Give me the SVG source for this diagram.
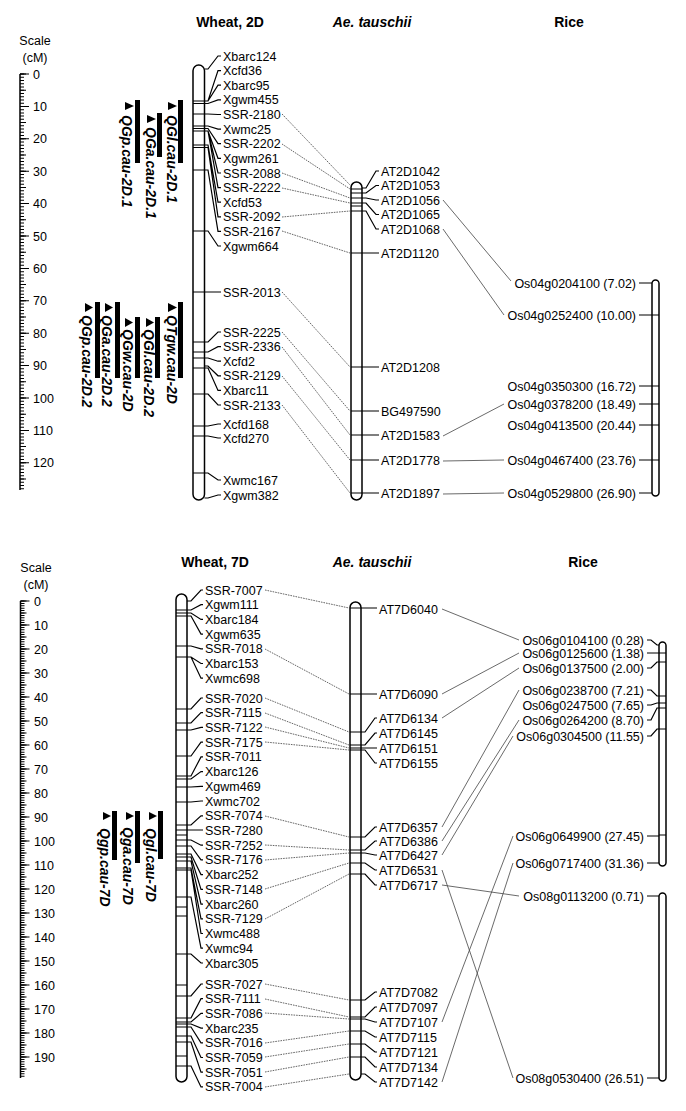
<svg xmlns="http://www.w3.org/2000/svg" width="686" height="1111" viewBox="0 0 686 1111">
<style>
text{font-family:"Liberation Sans",Arial,sans-serif;font-size:12.5px;fill:#000}
.h{font-weight:bold;font-size:14px;text-anchor:middle}
.hi{font-style:italic}
.q{font-weight:bold;font-style:italic;font-size:14px}
.m{text-anchor:middle}
.e{text-anchor:end}
.chr{fill:#fff;stroke:#000;stroke-width:1.5}
.bd{fill:none;stroke:#000;stroke-width:1.2}
.lk{fill:none;stroke:#000;stroke-width:1.2}
.dl{fill:none;stroke:#555;stroke-width:0.9;stroke-dasharray:1.6 1}
.sl{fill:none;stroke:#444;stroke-width:0.8}
.ax{stroke:#000;fill:none}
</style>
<rect width="686" height="1111" fill="#fff"/>

<!-- ===== Top panel: 2D ===== -->
<g id="scale-2D">
<text class="m" x="35" y="45">Scale</text>
<text class="m" x="35" y="62">(cM)</text>
<line class="ax" x1="20" y1="74" x2="20" y2="490" stroke-width="1.5"/>
<line class="ax" x1="22" y1="73.5" x2="22" y2="490" stroke-width="4" stroke-dasharray="1 2.24"/>
<line class="ax" x1="23" y1="73.5" x2="23" y2="490" stroke-width="6" stroke-dasharray="1 15.2"/>
<line class="ax" x1="24.5" y1="73.5" x2="24.5" y2="490" stroke-width="9" stroke-dasharray="1 31.4"/>
<text x="33" y="78.5">0</text><text x="33" y="110.9">10</text><text x="33" y="143.3">20</text><text x="33" y="175.7">30</text><text x="33" y="208.1">40</text><text x="33" y="240.5">50</text><text x="33" y="272.9">60</text><text x="33" y="305.3">70</text><text x="33" y="337.7">80</text><text x="33" y="370.1">90</text><text x="33" y="402.5">100</text><text x="33" y="434.9">110</text><text x="33" y="467.3">120</text>
</g>

<g id="headers-2D">
<text class="h" x="230" y="27">Wheat, 2D</text>
<text class="h hi" x="372" y="27">Ae. tauschii</text>
<text class="h" x="569" y="27">Rice</text>
</g>

<g id="qtl-2D">
<rect x="178" y="100" width="5" height="63"/><path d="M168 102L177 106L168 110Z"/><text class="q" transform="translate(167,115) rotate(90)">QGl.cau-2D.1</text>
<rect x="157" y="113" width="5" height="44"/><path d="M147 115L156 119L147 123Z"/><text class="q" transform="translate(146,127) rotate(90)">QGa.cau-2D.1</text>
<rect x="135" y="100" width="5" height="63"/><path d="M125 102L134 106L125 110Z"/><text class="q" transform="translate(122,115) rotate(90)">QGp.cau-2D.1</text>
<rect x="178" y="302" width="5" height="76"/><path d="M168 303L177 307.5L168 312Z"/><text class="q" transform="translate(167,315) rotate(90)">QTgw.cau-2D</text>
<rect x="155" y="317" width="5" height="61"/><path d="M146 318L154 322.5L146 327Z"/><text class="q" transform="translate(144,329) rotate(90)">QGl.cau-2D.2</text>
<rect x="135" y="317" width="5" height="61"/><path d="M125 318L133 322.5L125 327Z"/><text class="q" transform="translate(123,329) rotate(90)">QGw.cau-2D</text>
<rect x="115" y="302" width="5" height="76"/><path d="M105 303L113 307.5L105 312Z"/><text class="q" transform="translate(102,315) rotate(90)">QGa.cau-2D.2</text>
<rect x="95" y="302" width="5" height="76"/><path d="M85 303L93 307.5L85 312Z"/><text class="q" transform="translate(82,315) rotate(90)">QGp.cau-2D.2</text>
</g>

<g id="wheat-2D">
<rect class="chr" x="193" y="65" width="11.5" height="435" rx="5.7"/>
<path class="bd" d="M193 101H204.5M193 103.5H204.5M193 114H204.5M193 126H204.5M193 128.5H204.5M193 131H204.5M193 145H204.5M193 147.5H204.5M193 170H204.5M193 231H204.5M193 292H204.5M193 342H204.5M193 352H204.5M193 358H204.5M193 368H204.5M193 394H204.5M193 426H204.5M193 436H204.5M193 473H204.5"/>
<path class="lk" d="M204.5 69H208L218 56H221M204.5 101H208L218 70.6H221M204.5 101H208L218 85.2H221M204.5 103.5H208L218 99.9H221M204.5 114H208L218 114.5H221M204.5 126H208L218 129.1H221M204.5 128.5H208L218 143.7H221M204.5 131H208L218 158.3H221M204.5 131H208L218 173H221M204.5 131H208L218 187.6H221M204.5 145H208L218 202.2H221M204.5 147.5H208L218 216.8H221M204.5 170H208L218 231.4H221M204.5 231H208L218 246H221M204.5 292H221M204.5 342H208L218 332H221M204.5 352H208L218 346.6H221M204.5 358H208L218 361.2H221M204.5 366H208L218 375.8H221M204.5 368H208L218 390.4H221M204.5 394H208L218 405H221M204.5 426H208L218 424H221M204.5 436H208L218 438H221M204.5 473H208L218 480H221M204.5 498H208L218 495H221"/>
<text x="223" y="60.5">Xbarc124</text><text x="223" y="75.1">Xcfd36</text><text x="223" y="89.7">Xbarc95</text><text x="223" y="104.4">Xgwm455</text><text x="223" y="119">SSR-2180</text><text x="223" y="133.6">Xwmc25</text><text x="223" y="148.2">SSR-2202</text><text x="223" y="162.8">Xgwm261</text><text x="223" y="177.5">SSR-2088</text><text x="223" y="192.1">SSR-2222</text><text x="223" y="206.7">Xcfd53</text><text x="223" y="221.3">SSR-2092</text><text x="223" y="235.9">SSR-2167</text><text x="223" y="250.5">Xgwm664</text>
<text x="223" y="296.5">SSR-2013</text><text x="223" y="336.5">SSR-2225</text><text x="223" y="351.1">SSR-2336</text><text x="223" y="365.7">Xcfd2</text><text x="223" y="380.3">SSR-2129</text><text x="223" y="394.9">Xbarc11</text><text x="223" y="409.5">SSR-2133</text><text x="223" y="428.5">Xcfd168</text><text x="223" y="442.5">Xcfd270</text><text x="223" y="484.5">Xwmc167</text><text x="223" y="499.5">Xgwm382</text>
</g>

<g id="aet-2D">
<rect class="chr" x="351" y="182" width="11" height="318" rx="5.5"/>
<path class="bd" d="M351 189H362M351 193H362M351 198H362M351 203H362M351 206H362M351 211H362M351 253H362M351 367H362M351 411H362M351 435H362M351 460H362M351 493H362"/>
<path class="lk" d="M362 188H366L376 171H379M362 193H366L376 185.5H379M362 198H366L376 200H379M362 203H366L376 214.5H379M362 211H366L376 229H379M362 253H379M362 367H379M362 411H379M362 435H379M362 460H379M362 493H379"/>
<text x="381" y="175.5">AT2D1042</text><text x="381" y="190">AT2D1053</text><text x="381" y="204.5">AT2D1056</text><text x="381" y="219">AT2D1065</text><text x="381" y="233.5">AT2D1068</text><text x="381" y="257.5">AT2D1120</text><text x="381" y="371.5">AT2D1208</text><text x="381" y="415.5">BG497590</text><text x="381" y="440">AT2D1583</text><text x="381" y="465">AT2D1778</text><text x="381" y="498">AT2D1897</text>
</g>

<g id="rice-chr4">
<rect class="chr" x="652" y="280" width="7" height="216" rx="3.5"/>
<path class="bd" d="M652 315H659M652 386H659M652 404H659M652 425H659M652 460H659"/>
<path class="lk" d="M639 283H652M639 315H652M639 386H652M639 404H652M639 425H652M639 460H652M639 493H652"/>
<text class="e" x="636" y="287.5">Os04g0204100 (7.02)</text><text class="e" x="636" y="319.5">Os04g0252400 (10.00)</text><text class="e" x="636" y="390.5">Os04g0350300 (16.72)</text><text class="e" x="636" y="408.5">Os04g0378200 (18.49)</text><text class="e" x="636" y="429.5">Os04g0413500 (20.44)</text><text class="e" x="636" y="464.5">Os04g0467400 (23.76)</text><text class="e" x="636" y="497.5">Os04g0529800 (26.90)</text>
</g>

<!-- ===== Bottom panel: 7D ===== -->
<g id="scale-7D">
<text class="m" x="36" y="571.5">Scale</text>
<text class="m" x="36" y="589">(cM)</text>
<line class="ax" x1="20.5" y1="601" x2="20.5" y2="1078" stroke-width="1.5"/>
<line class="ax" x1="22.5" y1="600.5" x2="22.5" y2="1078" stroke-width="4" stroke-dasharray="1 1.4"/>
<line class="ax" x1="23.5" y1="600.5" x2="23.5" y2="1078" stroke-width="6" stroke-dasharray="1 11"/>
<line class="ax" x1="25" y1="600.5" x2="25" y2="1078" stroke-width="9" stroke-dasharray="1 23"/>
<text x="34" y="605.5">0</text><text x="34" y="629.5">10</text><text x="34" y="653.5">20</text><text x="34" y="677.5">30</text><text x="34" y="701.5">40</text><text x="34" y="725.5">50</text><text x="34" y="749.5">60</text><text x="34" y="773.5">70</text><text x="34" y="797.5">80</text><text x="34" y="821.5">90</text><text x="34" y="845.5">100</text><text x="34" y="869.5">110</text><text x="34" y="893.5">120</text><text x="34" y="917.5">130</text><text x="34" y="941.5">140</text><text x="34" y="965.5">150</text><text x="34" y="989.5">160</text><text x="34" y="1013.5">170</text><text x="34" y="1037.5">180</text><text x="34" y="1061.5">190</text>
</g>

<g id="headers-7D">
<text class="h" x="215" y="567">Wheat, 7D</text>
<text class="h hi" x="372" y="567">Ae. tauschii</text>
<text class="h" x="583" y="567">Rice</text>
</g>

<g id="qtl-7D">
<rect x="158" y="811" width="5" height="48"/><path d="M149 812L157 816L149 820Z"/><text class="q" transform="translate(146,828) rotate(90)">Qgl.cau-7D</text>
<rect x="135" y="811" width="5" height="52"/><path d="M126 812L134 816L126 820Z"/><text class="q" transform="translate(123,827) rotate(90)">Qga.cau-7D</text>
<rect x="112" y="811" width="5" height="49"/><path d="M103 812L111 816L103 820Z"/><text class="q" transform="translate(100,828) rotate(90)">Qgp.cau-7D</text>
</g>

<g id="wheat-7D">
<rect class="chr" x="176" y="594" width="11" height="488" rx="5.5"/>
<path class="bd" d="M176 610H187M176 613H187M176 616H187M176 646H187M176 657H187M176 709H187M176 723H187M176 730H187M176 756H187M176 776H187M176 779H187M176 787H187M176 802H187M176 825H187M176 830H187M176 835H187M176 840H187M176 846H187M176 854H187M176 857H187M176 861H187M176 868H187M176 870H187M176 897H187M176 907H187M176 916H187M176 954H187M176 985H187M176 996H187M176 1018H187M176 1022H187M176 1024H187M176 1027H187M176 1036H187M176 1042H187M176 1056H187M176 1066H187"/>
<path class="lk" d="M187 601H191L201 590H203M187 610H191L201 604.7H203M187 613H191L201 619.4H203M187 616H191L201 634.1H203M187 646H191L201 648.8H203M187 657H191L201 663.5H203M187 657H191L201 678.2H203M187 709H191L201 698H203M187 723H191L201 712.7H203M187 730H191L201 727.4H203M187 756H191L201 742.2H203M187 776H191L201 756.9H203M187 779H191L201 771.6H203M187 787H191L201 786.3H203M187 802H191L201 801H203M187 825H191L201 815.8H203M187 830H203M187 840H191L201 845.2H203M187 846H191L201 859.9H203M187 854H191L201 874.6H203M187 857H191L201 889.4H203M187 861H191L201 904.1H203M187 868H191L201 918.8H203M187 870H191L201 933.5H203M187 897H191L201 948.2H203M187 954H191L201 963H203M187 996H191L201 984H203M187 1018H191L201 998.7H203M187 1022H191L201 1013.4H203M187 1024H191L201 1028.1H203M187 1027H191L201 1042.8H203M187 1036H191L201 1057.5H203M187 1042H191L201 1072.2H203M187 1066H191L201 1086.9H203"/>
<text x="205" y="594.5">SSR-7007</text><text x="205" y="609.2">Xgwm111</text><text x="205" y="623.9">Xbarc184</text><text x="205" y="638.6">Xgwm635</text><text x="205" y="653.3">SSR-7018</text><text x="205" y="668">Xbarc153</text><text x="205" y="682.7">Xwmc698</text>
<text x="205" y="702.5">SSR-7020</text><text x="205" y="717.2">SSR-7115</text><text x="205" y="731.9">SSR-7122</text><text x="205" y="746.7">SSR-7175</text><text x="205" y="761.4">SSR-7011</text><text x="205" y="776.1">Xbarc126</text><text x="205" y="790.8">Xgwm469</text><text x="205" y="805.5">Xwmc702</text><text x="205" y="820.3">SSR-7074</text><text x="205" y="835">SSR-7280</text><text x="205" y="849.7">SSR-7252</text><text x="205" y="864.4">SSR-7176</text><text x="205" y="879.1">Xbarc252</text><text x="205" y="893.9">SSR-7148</text><text x="205" y="908.6">Xbarc260</text><text x="205" y="923.3">SSR-7129</text><text x="205" y="938">Xwmc488</text><text x="205" y="952.7">Xwmc94</text><text x="205" y="967.5">Xbarc305</text>
<text x="205" y="988.5">SSR-7027</text><text x="205" y="1003.2">SSR-7111</text><text x="205" y="1017.9">SSR-7086</text><text x="205" y="1032.6">Xbarc235</text><text x="205" y="1047.3">SSR-7016</text><text x="205" y="1062">SSR-7059</text><text x="205" y="1076.7">SSR-7051</text><text x="205" y="1091.4">SSR-7004</text>
</g>

<g id="aet-7D">
<rect class="chr" x="350" y="602" width="11" height="478" rx="5.5"/>
<path class="bd" d="M350 608H361M350 694H361M350 732H361M350 745H361M350 748H361M350 750H361M350 837H361M350 850H361M350 853H361M350 863H361M350 874H361M350 1000H361M350 1017H361M350 1019H361M350 1031H361M350 1044H361M350 1057H361"/>
<path class="lk" d="M361 608H377M361 694H377M361 732H365L375 718H377M361 745H365L375 733H377M361 748H377M361 750H365L375 763H377M361 837H365L375 827H377M361 850H365L375 841H377M361 853H365L375 855H377M361 863H365L375 870H377M361 874H365L375 885H377M361 1000H365L375 992H377M361 1017H365L375 1007H377M361 1019H365L375 1022H377M361 1031H365L375 1037H377M361 1044H365L375 1052H377M361 1057H365L375 1067H377M361 1074H365L375 1082H377"/>
<text x="379" y="613.5">AT7D6040</text><text x="379" y="698.5">AT7D6090</text><text x="379" y="722.5">AT7D6134</text><text x="379" y="737.5">AT7D6145</text><text x="379" y="752.5">AT7D6151</text><text x="379" y="767.5">AT7D6155</text>
<text x="379" y="831.5">AT7D6357</text><text x="379" y="845.5">AT7D6386</text><text x="379" y="859.5">AT7D6427</text><text x="379" y="874.5">AT7D6531</text><text x="379" y="889.5">AT7D6717</text>
<text x="379" y="996.5">AT7D7082</text><text x="379" y="1011.5">AT7D7097</text><text x="379" y="1026.5">AT7D7107</text><text x="379" y="1041.5">AT7D7115</text><text x="379" y="1056.5">AT7D7121</text><text x="379" y="1071.5">AT7D7134</text><text x="379" y="1086.5">AT7D7142</text>
</g>

<g id="rice-chr6">
<rect class="chr" x="659" y="642" width="7" height="224" rx="3.5"/>
<path class="bd" d="M659 653H666M659 662H666M659 696H666M659 703H666M659 708H666M659 729H666M659 835H666"/>
<path class="lk" d="M647 640H651L657 645H659M647 653H659M647 668H651L657 662H659M647 690H651L657 696H659M647 705H651L657 703H659M647 720H651L657 708H659M647 736H651L657 729H659M647 836H659M647 863H659"/>
<text class="e" x="644" y="644.5">Os06g0104100 (0.28)</text><text class="e" x="644" y="657.5">Os06g0125600 (1.38)</text><text class="e" x="644" y="672.5">Os06g0137500 (2.00)</text><text class="e" x="644" y="694.5">Os06g0238700 (7.21)</text><text class="e" x="644" y="709.5">Os06g0247500 (7.65)</text><text class="e" x="644" y="724.5">Os06g0264200 (8.70)</text><text class="e" x="644" y="740.5">Os06g0304500 (11.55)</text><text class="e" x="644" y="840.5">Os06g0649900 (27.45)</text><text class="e" x="644" y="867.5">Os06g0717400 (31.36)</text>
</g>

<g id="rice-chr8">
<rect class="chr" x="659" y="893" width="7" height="188" rx="3.5"/>
<path class="lk" d="M647 896H659M647 1078H659"/>
<text class="e" x="644" y="900.5">Os08g0113200 (0.71)</text><text class="e" x="644" y="1082.5">Os08g0530400 (26.51)</text>
</g>

<g id="connectors">
<path class="dl" d="M282 114L350 185M282 144L350 189M282 173L350 198M282 188L350 203M282 217L350 211M282 231L350 253M282 292L350 367M282 332L350 411M282 347L350 435M282 376L350 460M282 405L350 493"/>
<path class="sl" d="M443 200L511 281M443 229L504 315M443 436L504 404M443 461L504 460M443 494L504 493"/>
<path class="dl" d="M265 590L349 608M265 649L349 694M265 698L349 732M265 713L349 745M265 727L349 748M265 742L349 750M265 816L349 837M265 845L349 850M265 860L349 853M265 889L349 863M265 919L349 874M265 984L349 1000M265 999L349 1017M265 1013L349 1019M265 1043L349 1031M265 1057L349 1044M265 1072L349 1057M265 1087L349 1074"/>
<path class="sl" d="M442 609L519 640M442 694L519 653M442 718L519 668M442 827L519 690M442 841L519 720M442 855L513 736M442 870L513 1078M442 885L519 896M442 1022L513 836M442 1082L513 863"/>
</g>
</svg>
